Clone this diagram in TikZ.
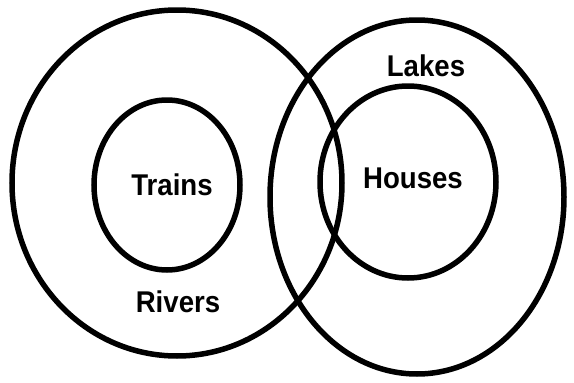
\documentclass[tikz,border=0pt]{standalone}
\usepackage{fontspec}
\setmainfont{Liberation Sans}
\newfontfamily\lblfont{Liberation Sans}[FakeStretch=0.92]
\begin{document}
\begin{tikzpicture}[x=1pt,y=-1pt,
  ring/.style={draw=black,line width=5.5pt},
  lbl/.style={font=\lblfont\fontsize{30}{32}\selectfont\bfseries,inner sep=0pt}]
\useasboundingbox[fill=white] (0,0) rectangle (574,383);
\draw[ring] (177,183) ellipse [x radius=165, y radius=173];
\draw[ring] (417,197) ellipse [x radius=147, y radius=177];
\draw[ring] (167,185) ellipse [x radius=73, y radius=85];
\draw[ring] (408,182) ellipse [x radius=88, y radius=96];
\node[lbl] (trains) at (172,185) {Trains};
\node[lbl] (rivers) at (178,302) {Rivers};
\node[lbl] (lakes) at (426,66) {Lakes};
\node[lbl] (houses) at (413,178) {Houses};
\end{tikzpicture}
\end{document}
